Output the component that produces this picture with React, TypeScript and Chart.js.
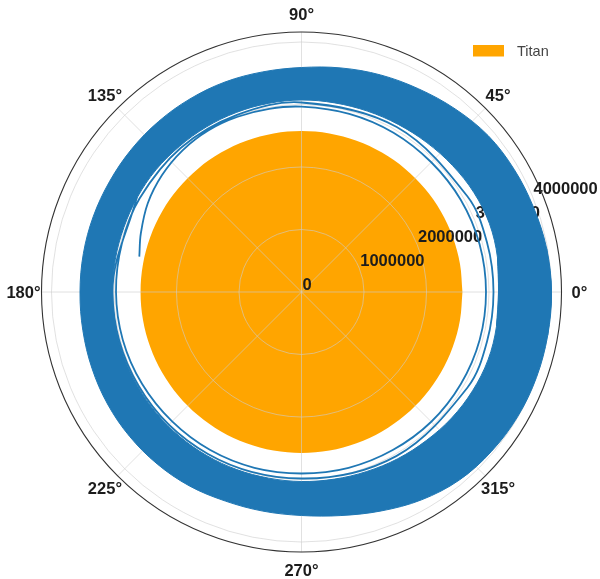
import React, { useEffect, useRef } from "react";
import { Chart, registerables } from "chart.js";

Chart.register(...registerables);

// Titan's mean radius and the outer limit of the r axis (metres)
const TITAN_RADIUS = 2575000;
const R_MAX = 4160000;

const rTicks = [0, 1000000, 2000000, 3000000, 4000000];
const thetaTicks = [0, 45, 90, 135, 180, 225, 270, 315];
const rLabelAngle = 22.5;

// Envelope of the settled orbit band (degrees, metres)
const bandAngles = [
  0, 10, 20, 30, 40, 50, 60, 70, 80, 90, 100, 110, 120, 130, 140, 150, 160, 170,
  180, 190, 200, 210, 220, 230, 240, 250, 260, 270, 280, 290, 300, 310, 320, 330, 340, 350,
];
const bandOuter = [
  4000000, 3984000, 3952000, 3928000, 3896000, 3824000, 3752000, 3696000, 3640000,
  3592000, 3576000, 3576000, 3568000, 3560000, 3552000, 3544000, 3544000, 3544000,
  3544000, 3552000, 3568000, 3584000, 3592000, 3592000, 3584000, 3560000, 3560000,
  3576000, 3632000, 3728000, 3840000, 3928000, 3968000, 3992000, 4000000, 4000000,
];
const bandInner = [
  3152000, 3184000, 3200000, 3184000, 3152000, 3120000, 3096000, 3080000, 3072000,
  3072000, 3064000, 3056000, 3048000, 3040000, 3040000, 3032000, 3024000, 3024000,
  3024000, 3024000, 3024000, 3024000, 3024000, 3024000, 3024000, 3024000, 3024000,
  3032000, 3040000, 3056000, 3080000, 3104000, 3136000, 3160000, 3176000, 3168000,
];

// First revolutions after arrival (unwrapped angle in degrees, radius in metres)
const spiralTheta = [
  167.7, 160, 150, 140, 130, 120, 110, 100, 90, 75, 60, 45, 30, 15, 0, -15, -30, -45,
  -60, -75, -90, -105, -120, -135, -150, -165, -180, -195, -210, -230, -250, -270,
  -300, -330, -345, -360, -375, -390, -420, -450, -480, -510, -540, -570,
];
const spiralR = [
  2656000, 2736000, 2840000, 2912000, 2960000, 2984000, 2984000, 2976000, 2965000,
  2952000, 2944000, 2936000, 2944000, 2950000, 2952000, 2952000, 2944000, 2936000,
  2920000, 2912000, 2904000, 2912000, 2920000, 2928000, 2944000, 2960000, 2968000,
  2976000, 2992000, 3008000, 3016000, 3032000, 3048000, 3064000, 3072000, 3072000,
  3072000, 3064000, 3032000, 2984000, 2992000, 3008000, 3024000, 3040000,
];

const WIDTH = 600;
const HEIGHT = 579;
const CENTER_X = 301.5;
const CENTER_Y = 292;
const AXIS_RADIUS_PX = 260;
const PX_PER_M = AXIS_RADIUS_PX / R_MAX;

const BLUE = "#1f77b4";
const ORANGE = "#FFA500";
const GRID = "rgba(205,205,205,0.6)";
const TICK_COLOR = "#1c1c1c";
const FONT = '"Liberation Sans", Arial, Helvetica, sans-serif';
const TITAN_INDEX = 2;
const CURVE_TENSION = 0.35;

function polar(thetaDeg: number, r: number) {
  const t = (thetaDeg * Math.PI) / 180;
  return { x: r * Math.cos(t), y: r * Math.sin(t) };
}

// closed loop through the sampled edge, running one sample past each end so the
// smoothed curve has no kink where it starts and finishes
function wrappedLoop(radii: number[]) {
  const n = bandAngles.length;
  const pts = [polar(bandAngles[n - 1] - 360, radii[n - 1])];
  for (let i = 0; i <= n + 1; i++) {
    pts.push(polar(bandAngles[i % n] + 360 * Math.floor(i / n), radii[i % n]));
  }
  return pts;
}

const polarFrame = {
  id: "polarFrame",
  // grid and radial tick labels sit above Titan but below the orbit
  afterDatasetDraw(chart: any, args: any) {
    if (args.index !== TITAN_INDEX) return;
    const { ctx } = chart;
    const xs = chart.scales.x;
    const ys = chart.scales.y;
    const cx = xs.getPixelForValue(0);
    const cy = ys.getPixelForValue(0);
    const k = (xs.getPixelForValue(R_MAX) - cx) / R_MAX;
    ctx.save();
    ctx.strokeStyle = GRID;
    ctx.lineWidth = 1;
    for (const r of rTicks) {
      if (r <= 0) continue;
      ctx.beginPath();
      ctx.arc(cx, cy, r * k, 0, Math.PI * 2);
      ctx.stroke();
    }
    for (const a of thetaTicks) {
      const p = polar(a, R_MAX);
      ctx.beginPath();
      ctx.moveTo(cx, cy);
      ctx.lineTo(xs.getPixelForValue(p.x), ys.getPixelForValue(p.y));
      ctx.stroke();
    }
    ctx.font = `bold 16.5px ${FONT}`;
    ctx.fillStyle = TICK_COLOR;
    ctx.textAlign = "left";
    ctx.textBaseline = "alphabetic";
    for (const r of rTicks) {
      const p = polar(rLabelAngle, r);
      ctx.fillText(String(r), xs.getPixelForValue(p.x) + 1, ys.getPixelForValue(p.y) - 2.5);
    }
    ctx.restore();
  },
  afterDraw(chart: any) {
    const { ctx } = chart;
    const xs = chart.scales.x;
    const ys = chart.scales.y;
    const cx = xs.getPixelForValue(0);
    const cy = ys.getPixelForValue(0);
    const k = (xs.getPixelForValue(R_MAX) - cx) / R_MAX;
    ctx.save();
    // outer spine
    ctx.strokeStyle = "#333333";
    ctx.lineWidth = 1.1;
    ctx.beginPath();
    ctx.arc(cx, cy, R_MAX * k, 0, Math.PI * 2);
    ctx.stroke();
    // angle labels
    ctx.font = `bold 16.5px ${FONT}`;
    ctx.fillStyle = TICK_COLOR;
    ctx.textAlign = "center";
    ctx.textBaseline = "middle";
    const labelR = R_MAX * k + 18;
    for (const a of thetaTicks) {
      const t = (a * Math.PI) / 180;
      ctx.fillText(`${a}°`, cx + labelR * Math.cos(t), cy - labelR * Math.sin(t) + 1);
    }
    // legend
    const ds = chart.data.datasets[TITAN_INDEX];
    ctx.fillStyle = ds.backgroundColor;
    ctx.fillRect(473, 45, 31, 11.5);
    ctx.font = `14.5px ${FONT}`;
    ctx.fillStyle = "#444444";
    ctx.textAlign = "left";
    ctx.textBaseline = "middle";
    ctx.fillText(ds.label, 517, 51.5);
    ctx.restore();
  },
};

export default function App() {
  const canvasRef = useRef<HTMLCanvasElement | null>(null);

  useEffect(() => {
    const canvas = canvasRef.current;
    if (!canvas) return;

    const spiral = spiralTheta.map((t, i) => polar(t, spiralR[i]));

    // ring outline: outer edge one way, inner edge back the other way,
    // with doubled points where the two edges are joined
    const outerLoop = wrappedLoop(bandOuter);
    const innerLoop = wrappedLoop(bandInner).reverse();
    const band = [
      ...outerLoop,
      outerLoop[outerLoop.length - 1],
      innerLoop[0],
      ...innerLoop,
    ];

    const titan = [...bandAngles, 360].map((a) => polar(a, TITAN_RADIUS));

    const chart = new Chart(canvas, {
      type: "line",
      data: {
        datasets: [
          {
            label: "orbit",
            data: spiral,
            borderColor: BLUE,
            borderWidth: 1.8,
            tension: CURVE_TENSION,
            pointRadius: 0,
            fill: false,
            order: 0,
          },
          {
            label: "orbit band",
            data: band,
            borderColor: BLUE,
            backgroundColor: BLUE,
            borderWidth: 1,
            tension: CURVE_TENSION,
            pointRadius: 0,
            fill: "shape",
            order: 1,
          },
          {
            label: "Titan",
            data: titan,
            borderColor: ORANGE,
            backgroundColor: ORANGE,
            borderWidth: 0,
            tension: CURVE_TENSION,
            pointRadius: 0,
            fill: "shape",
            order: 2,
          },
        ],
      },
      options: {
        animation: false,
        responsive: false,
        events: [],
        layout: { padding: 0 },
        plugins: {
          legend: { display: false },
          tooltip: { enabled: false },
        },
        scales: {
          x: {
            type: "linear",
            display: false,
            bounds: "data",
            min: -CENTER_X / PX_PER_M,
            max: (WIDTH - CENTER_X) / PX_PER_M,
          },
          y: {
            type: "linear",
            display: false,
            bounds: "data",
            min: -(HEIGHT - CENTER_Y) / PX_PER_M,
            max: CENTER_Y / PX_PER_M,
          },
        },
      } as any,
      plugins: [polarFrame as any],
    });

    return () => chart.destroy();
  }, []);

  return (
    <div style={{ position: "absolute", left: 0, top: 0, width: WIDTH, height: HEIGHT, background: "#ffffff" }}>
      <canvas ref={canvasRef} width={WIDTH} height={HEIGHT} />
    </div>
  );
}
